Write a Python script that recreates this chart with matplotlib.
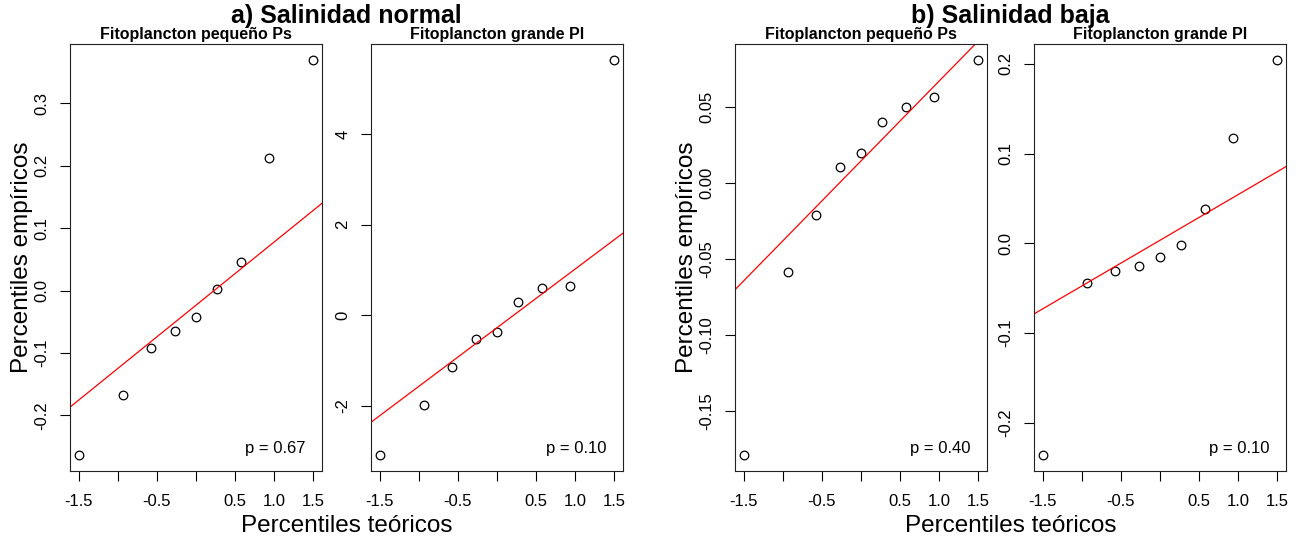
import numpy as np
import matplotlib
matplotlib.use("Agg")
import matplotlib.pyplot as plt

plt.rcParams['font.family'] = ['Liberation Sans', 'DejaVu Sans']

# Theoretical normal quantiles (n = 9), read from the x positions
theoretical = [-1.49, -0.93, -0.57, -0.27, 0.0, 0.27, 0.57, 0.93, 1.49]

normal_ps = [-0.264, -0.168, -0.092, -0.065, -0.043, 0.002, 0.045, 0.212, 0.370]
normal_pl = [-3.09, -1.99, -1.15, -0.52, -0.38, 0.29, 0.60, 0.65, 5.64]
baja_ps = [-0.179, -0.0586, -0.021, 0.0105, 0.0197, 0.040, 0.050, 0.0566, 0.081]
baja_pl = [-0.236, -0.0444, -0.031, -0.0256, -0.0156, -0.0022, 0.0378, 0.1178, 0.2044]

p_values = ["0.67", "0.10", "0.40", "0.10"]
panel_titles = ["Fitoplancton pequeño Ps", "Fitoplancton grande Pl",
                "Fitoplancton pequeño Ps", "Fitoplancton grande Pl"]
group_titles = ["a) Salinidad normal", "b) Salinidad baja"]
xlabel = "Percentiles teóricos"
ylabel = "Percentiles empíricos"

xticks = [-1.5, -1.0, -0.5, 0.0, 0.5, 1.0, 1.5]
xtick_labels = ["-1.5", "", "-0.5", "", "0.5", "1.0", "1.5"]

yticks = [[-0.2, -0.1, 0.0, 0.1, 0.2, 0.3],
          [-2, 0, 2, 4],
          [-0.15, -0.10, -0.05, 0.00, 0.05],
          [-0.2, -0.1, 0.0, 0.1, 0.2]]
ytick_labels = [["-0.2", "-0.1", "0.0", "0.1", "0.2", "0.3"],
                ["-2", "0", "2", "4"],
                ["-0.15", "-0.10", "-0.05", "0.00", "0.05"],
                ["-0.2", "-0.1", "0.0", "0.1", "0.2"]]

series = [normal_ps, normal_pl, baja_ps, baja_pl]

W, H = 1299, 538
fig = plt.figure(figsize=(W / 100, H / 100), dpi=100)

lefts_px = [70, 371, 735, 1034]
width_px = 252
top_px, bottom_px = 44, 471


def pad_range(v):
    lo, hi = min(v), max(v)
    d = (hi - lo) * 0.04
    return lo - d, hi + d


axes = []
for i, (lp, y) in enumerate(zip(lefts_px, series)):
    ax = fig.add_axes([lp / W, 1 - bottom_px / H, width_px / W, (bottom_px - top_px) / H])
    axes.append(ax)
    x = np.array(theoretical)
    yv = np.array(y)
    ax.plot(x, yv, linestyle='none', marker='o', markersize=6.2,
            markerfacecolor='none', markeredgecolor='black', markeredgewidth=0.9)
    # qqline through first and third quartiles
    q1, q3 = np.quantile(yv, [0.25, 0.75])
    z1, z3 = -0.6744897502, 0.6744897502
    slope = (q3 - q1) / (z3 - z1)
    intercept = q1 - slope * z1
    ax.axline((0, intercept), slope=slope, color='#ff0000', lw=0.9)
    ax.set_xlim(*pad_range(theoretical))
    ax.set_ylim(*pad_range(y))
    ax.set_xticks(xticks)
    ax.set_xticklabels(xtick_labels)
    ax.set_yticks(yticks[i])
    ax.set_yticklabels(ytick_labels[i], rotation=90, va='center')
    ax.tick_params(axis='both', direction='out', length=7.2, width=0.8,
                   labelsize=12, colors='black')
    ax.tick_params(axis='x', pad=9)
    ax.tick_params(axis='y', pad=7.5)
    for s in ax.spines.values():
        s.set_linewidth(0.8)
        s.set_color('#222222')
    ax.annotate(panel_titles[i], xy=(0.5, 1), xycoords='axes fraction',
                xytext=(0, 6.5), textcoords='offset points',
                ha='center', va='center', fontsize=11.5, fontweight='bold')
    ax.annotate("p = " + p_values[i], xy=(1, 0), xycoords='axes fraction',
                xytext=(-12, 16.5), textcoords='offset points',
                ha='right', va='center', fontsize=12)

for g in range(2):
    l = lefts_px[2 * g]
    r = lefts_px[2 * g + 1] + width_px
    cx = (l + r) / 2 / W
    fig.text(cx, 1 - 16 / H, group_titles[g], ha='center', va='center',
             fontsize=18, fontweight='bold')
    fig.text(cx, 1 - 532 / H, xlabel, ha='center', va='baseline', fontsize=17.5)
    fig.text((l - 48) / W, 1 - 257.5 / H, ylabel, ha='center', va='center',
             rotation=90, fontsize=17.5)

fig.savefig("out.png", dpi=100)
